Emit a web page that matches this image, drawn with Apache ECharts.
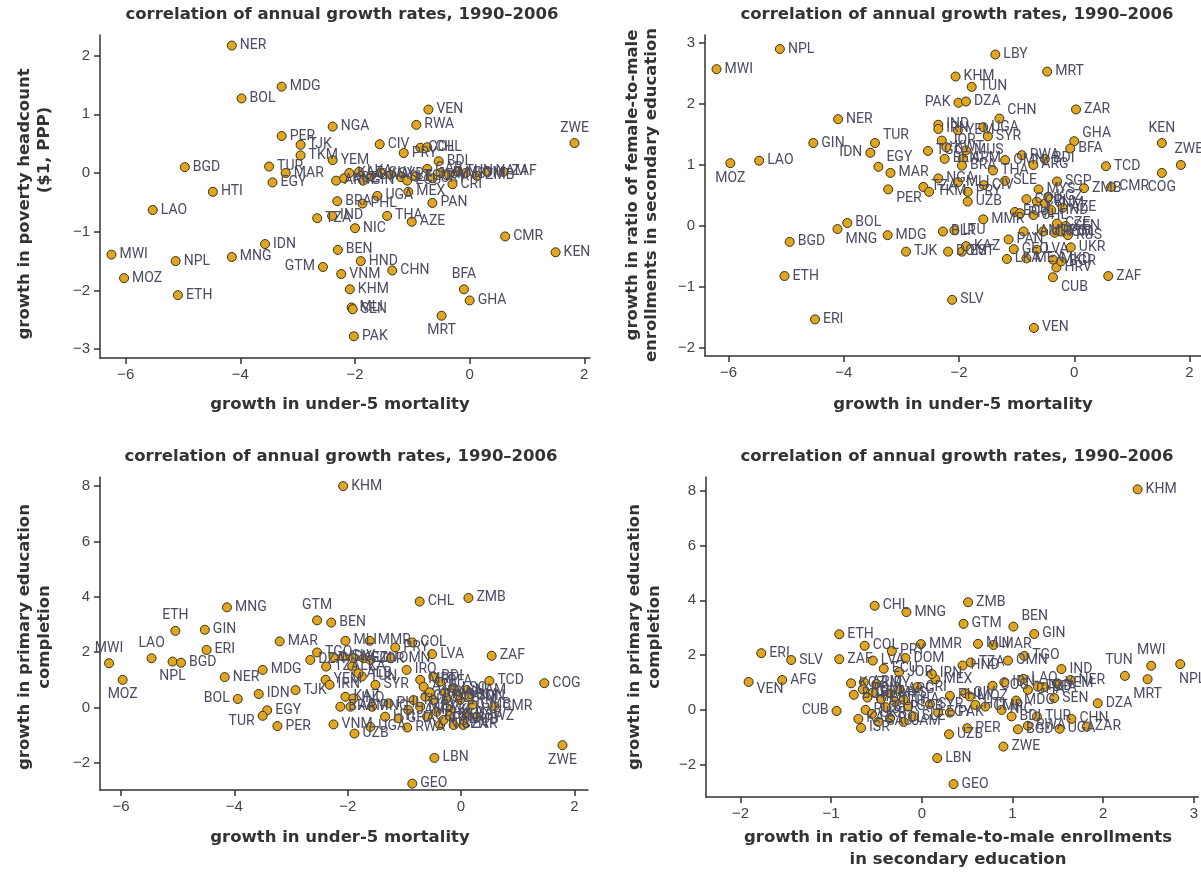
<!DOCTYPE html>
<html><head><meta charset="utf-8">
<script src="https://cdn.jsdelivr.net/npm/echarts@6/dist/echarts.min.js"></script>
<style>html,body{margin:0;padding:0;background:#fff}#c{width:1201px;height:872px}</style>
</head><body><div id="c"></div>
<script>
// ---------- Panel 1: under-5 mortality vs poverty headcount ----------
const codes1 = ['NER','MDG','BOL','NGA','PER','TJK','TKM','YEM','CIV','VEN','RWA','ZWE','PRY','COL','CHL','BDI','ZAF','BGD','TUR','MAR','EGY','HTI','LAO','MWI','MOZ','NPL','ETH','MNG','IDN','GTM','BEN','HND','VNM','KHM','MLI','SEN','PAK','BRA','PHL','TZA','IND','NIC','UGA','MEX','CRI','PAN','THA','AZE','CMR','KEN','CHN','BFA','GHA','MRT',
  'ARM','KGZ','KAZ','LKA','GIN','SLV','SYR','SLE','ECU','TGO','GAB','URY','JAM','MYS','TUN','DOM','ZMB','NAM','BWA'];
const x1 = [-4.15,-3.28,-3.98,-2.39,-3.28,-2.95,-2.95,-2.39,-1.57,-0.72,-0.93,1.83,-1.15,-0.86,-0.74,-0.54,0.59,-4.97,-3.50,-3.21,-3.44,-4.48,-5.53,-6.25,-6.03,-5.13,-5.09,-4.15,-3.57,-2.56,-2.30,-1.90,-2.24,-2.09,-2.06,-2.04,-2.02,-2.31,-1.87,-2.66,-2.40,-2.00,-1.61,-1.07,-0.30,-0.65,-1.44,-1.01,0.62,1.50,-1.35,-0.10,0.00,-0.49,
  -2.33,-2.19,-2.10,-1.93,-1.86,-1.55,-1.38,-1.20,-1.09,-0.94,-0.74,-0.65,-0.51,-0.36,-0.21,-0.07,0.13,0.31,-1.72];
const y1 = [2.17,1.47,1.27,0.79,0.63,0.48,0.30,0.22,0.49,1.08,0.82,0.51,0.34,0.43,0.44,0.20,0.02,0.10,0.11,0.00,-0.16,-0.32,-0.63,-1.39,-1.79,-1.50,-2.08,-1.43,-1.21,-1.60,-1.31,-1.50,-1.72,-1.98,-2.29,-2.32,-2.78,-0.48,-0.52,-0.77,-0.73,-0.94,-0.39,-0.32,-0.19,-0.51,-0.73,-0.83,-1.08,-1.35,-1.66,-1.98,-2.17,-2.43,
  -0.13,-0.09,0.00,0.02,-0.13,0.00,-0.03,-0.07,-0.13,-0.06,0.07,-0.09,0.00,-0.03,0.02,0.00,-0.05,0.02,-0.05];
const xTicks1 = [-6,-4,-2,0,2];
const yTicks1 = [-3,-2,-1,0,1,2];

// ---------- Panel 2: under-5 mortality vs female-to-male secondary ratio ----------
const codes2 = ['NPL','MWI','NER','GIN','TUR','IDN','EGY','MAR','MOZ','LAO','PER','LBY','KHM','MRT','TUN','PAK','DZA','CHN','ZAR','UGA','SYR','GHA','BFA','KEN','ZWE','TCD','COG','CMR','ZMB','SGP','RWA','BDI','ARG','THA','SLE','OMN',
  'IND','IRN','YEM','JOR','KWT','TGO','BEN','ARM','MUS','BRA','NGA','TZA','TKM','MLI','UZB','PRY','CIV','MYS','MMR','MDG','TJK','BGD','MNG','BOL','ETH','ERI',
  'BLR','LTU','DOM','EST','KAZ','SLV','VEN','CUB','ZAF','UKR','HRV','BGR','LKA','PAN','GEO','JAM','MEX','LVA','URY','ROM','POL','CZE','RUS','MKD','ECU','PHL','CHL','COL','CRI','VNM','HND','KGZ','AZE','SEN'];
const x2 = [-5.11,-6.21,-4.10,-4.53,-3.46,-3.54,-3.40,-3.19,-5.97,-5.47,-3.23,-1.37,-2.06,-0.47,-1.78,-2.01,-1.88,-1.30,0.03,-1.58,-1.50,0.00,-0.07,1.52,1.85,0.55,1.52,0.64,0.17,-0.30,-0.91,-0.51,-0.71,-1.41,-1.20,-1.20,
  -2.36,-2.36,-2.02,-2.30,-2.22,-2.54,-2.25,-1.93,-1.88,-1.95,-2.36,-2.62,-2.52,-2.02,-1.85,-1.85,-1.57,-0.62,-1.58,-3.24,-2.92,-4.94,-4.11,-3.94,-5.03,-4.50,
  -2.28,-2.08,-2.19,-1.95,-1.88,-2.12,-0.70,-0.37,0.59,-0.06,-0.31,-0.23,-1.17,-1.14,-1.05,-0.88,-0.83,-0.65,-0.54,-0.34,-0.23,-0.30,-0.11,-0.37,-1.03,-0.94,-0.71,-0.83,-0.65,-0.51,-0.40,-0.45,-0.20,-0.15];
const y2 = [2.90,2.57,1.75,1.36,1.36,1.20,0.97,0.87,1.03,1.07,0.60,2.81,2.45,2.53,2.28,2.02,2.04,1.76,1.91,1.62,1.47,1.39,1.27,1.36,1.00,0.98,0.87,0.64,0.62,0.73,1.16,1.10,1.00,0.91,0.74,1.08,
  1.66,1.59,1.57,1.40,1.29,1.23,1.10,1.10,1.24,0.99,0.78,0.64,0.56,0.72,0.40,0.56,0.67,0.60,0.11,-0.15,-0.42,-0.26,-0.05,0.05,-0.82,-1.53,
  -0.09,-0.07,-0.42,-0.42,-0.33,-1.21,-1.67,-0.84,-0.82,-0.35,-0.68,-0.58,-0.54,-0.22,-0.38,-0.09,-0.53,-0.39,-0.09,-0.11,-0.09,0.04,-0.15,-0.55,0.23,0.21,0.18,0.44,0.40,0.37,0.26,0.48,0.30,0.00];
const xTicks2 = [-6,-4,-2,0,2];
const yTicks2 = [-2,-1,0,1,2,3];

// ---------- Panel 3: under-5 mortality vs primary completion ----------
const codes3 = ['KHM','MNG','GTM','BEN','ETH','GIN','ERI','MAR','MWI','LAO','NPL','BGD','NER','MOZ','MDG','BOL','IDN','TJK','EGY','TUR','PER','MLI','MMR','COL','PRY','OMN','LVA','ZAF','TCD','COG','CMR','ZWE','LBN','GEO','VNM','UZB','CHL','ZMB','TGO',
  'UGA','RWA','NIC','SEN','ZAR','HTI','GHA','BRA','ARM','PNG','PHL','KAZ','IND','SYR','TUN','YEM','IRN','DZA','TZA','MDV','SLV','KGZ','ECU','JOR','LKA','ALB','IRQ','MRT','AZE','BDI','BFA','LSO','NAM','CIV','CAF','SLE','TKM','MEX','PAK','KEN','GAB','CRI','PAN','SWZ','THA','JAM','URY','BWA','DOM','GMB','SDN','MUS','CUB'];
const x3 = [-2.08,-4.13,-2.54,-2.29,-5.04,-4.52,-4.49,-3.20,-6.21,-5.46,-5.09,-4.94,-4.17,-5.97,-3.50,-3.94,-3.57,-2.92,-3.42,-3.50,-3.24,-2.04,-1.61,-0.86,-1.16,-1.24,-0.51,0.54,0.50,1.47,0.59,1.79,-0.47,-0.86,-2.25,-1.88,-0.73,0.13,-2.54,
  -1.60,-0.95,-0.37,-0.13,0.04,-1.34,-1.10,-2.13,-1.95,-1.57,-1.28,-2.04,-1.90,-1.51,-1.75,-2.39,-2.32,-2.66,-2.38,-2.25,-2.07,-1.90,-1.72,-1.60,-1.92,-1.81,-0.96,-0.72,-0.66,-0.49,-0.37,-0.13,0.10,-0.63,-0.49,-0.25,-0.02,-0.72,-0.43,-0.19,0.10,-0.60,-0.31,0.28,-0.84,-0.93,-0.55,-0.28,-0.05,0.20,0.15,-0.20,0.05];
const y3 = [8.00,3.62,3.15,3.07,2.77,2.81,2.08,2.39,1.60,1.78,1.66,1.62,1.10,1.00,1.36,0.31,0.49,0.63,-0.10,-0.30,-0.67,2.41,2.41,2.35,2.17,1.78,1.93,1.87,0.96,0.88,0.05,-1.36,-1.82,-2.75,-0.61,-0.94,3.83,3.96,1.99,
  -0.70,-0.72,-0.63,-0.63,-0.63,-0.33,-0.39,0.03,0.03,0.03,0.15,0.39,0.33,0.82,1.12,1.00,0.82,1.72,1.48,1.82,1.84,1.78,1.78,1.72,1.48,1.24,1.36,1.00,0.75,1.12,0.93,0.70,0.63,0.39,0.27,0.33,0.27,0.03,-0.15,-0.09,-0.21,-0.33,-0.45,-0.33,0.27,-0.09,0.55,0.55,0.45,0.10,0.40,-0.30,-0.45];
const xTicks3 = [-6,-4,-2,0,2];
const yTicks3 = [-2,0,2,4,6,8];

// ---------- Panel 4: female-to-male secondary ratio vs primary completion ----------
const codes4 = ['KHM','CHL','MNG','ETH','COL','MMR','PRY','ERI','SLV','ZAF','LVA','ECU','AFG','VEN','KGZ','ARM','BRA','JOR','DOM','MEX','CRI','IRN','ZMB','GTM','BEN','GIN','MLI','MAR','TGO','OMN','TZA','HND','IND','TUN','MWI','NPL','MRT','NER','YEM','BFA','TCD','LAO','IDN','COG','GHA','SEN','DZA','CHN','ZAR','UGA','RWA','BGD','TUR','BDI','PER','UZB','ZWE','LBN','GEO',
  'PHL','CIV','MDG','NIC','PAK','EGY','SYR','THA','GAB','JAM','SLE','HTI','CMR','MOZ','CUB','ISR','RUS','SAU','KAZ','UKR','BLR','POL','LTU','EST','HRV','BGR','ROM','URY','MYS','ARG'];
const x4 = [2.38,-0.52,-0.17,-0.91,-0.63,-0.01,-0.33,-1.77,-1.44,-0.91,-0.54,-0.42,-1.54,-1.91,-0.78,-0.64,-0.54,-0.25,-0.18,0.15,-0.05,0.11,0.51,0.46,1.01,1.24,0.62,0.79,1.13,0.95,0.54,0.45,1.54,2.24,2.53,2.85,2.49,1.64,1.49,1.35,1.28,1.12,0.91,0.78,1.17,1.46,1.94,1.65,1.82,1.52,1.17,1.06,1.27,0.99,0.50,0.30,0.90,0.17,0.35,
  0.31,0.48,1.04,0.88,0.31,0.18,0.09,-0.20,-0.15,-0.20,-0.09,0.59,0.70,0.53,-0.94,-0.67,-0.62,-0.48,-0.70,-0.55,-0.40,-0.35,-0.30,-0.45,-0.60,-0.75,-0.65,-0.50,-0.35,-0.25];
const y4 = [8.05,3.80,3.57,2.76,2.34,2.40,2.15,2.07,1.82,1.85,1.80,1.50,1.09,1.02,0.97,1.01,0.63,1.38,1.89,1.12,0.83,1.31,3.93,3.14,3.04,2.77,2.41,2.37,1.97,1.80,1.73,1.62,1.49,1.24,1.61,1.67,1.12,1.09,0.97,0.83,0.85,1.13,1.01,0.88,0.73,0.43,0.24,-0.33,-0.61,-0.69,-0.58,-0.71,-0.24,-0.24,-0.67,-0.89,-1.34,-1.76,-2.71,
  0.51,0.61,0.34,0.00,-0.10,-0.10,0.21,0.37,0.12,-0.44,-0.24,0.18,0.12,0.49,-0.04,-0.66,0.00,-0.44,-0.33,-0.15,0.10,-0.30,0.30,0.40,0.45,0.55,0.75,0.95,0.60,0.75];
const xTicks4 = [-2,-1,0,1,2,3];
const yTicks4 = [-2,0,2,4,6,8];

// ---------- label placement (style only) ----------
const place1 = {GTM:{position:'left'}, ZWE:{position:'top'}, BFA:{position:'top'}, MRT:{position:'bottom'}};
const place2 = {IDN:{position:'left'}, PAK:{position:'left'}, MOZ:{position:'bottom'}, KEN:{position:'top'}, ZWE:{position:'top', offset:[8,0]}, COG:{position:'bottom'},
  TUR:{offset:[0,-8]}, EGY:{offset:[0,-9]}, PER:{offset:[0,9]}, CHN:{offset:[0,-8]}, GHA:{offset:[0,-8]}, MNG:{offset:[0,10]}, CUB:{offset:[0,10]}};
const place3 = {GTM:{position:'top'}, ETH:{position:'top'}, MWI:{position:'top'}, LAO:{position:'top'}, NPL:{position:'bottom'}, MOZ:{position:'bottom'}, BOL:{position:'left'}, TUR:{position:'left', offset:[0,6]}, ZWE:{position:'bottom'}};
const place4 = {CUB:{position:'left'}, VEN:{offset:[0,8]}, TUN:{position:'top', offset:[-6,0]}, MWI:{position:'top'}, NPL:{position:'bottom', offset:[12,0]}, MRT:{position:'bottom'}, BEN:{offset:[0,-10]}};

const TXT = '#333';
const BOLD = '"DejaVu Sans", "Liberation Sans", sans-serif';
const minus = v => String(v).replace('-', '\u2212');

function xAxis(idx, min, max, ticks) {
  return {type:'value', gridIndex:idx, min, max, splitLine:{show:false},
    axisLine:{show:true, onZero:false, lineStyle:{color:'#333', width:1.5}},
    axisTick:{show:true, length:6, customValues:ticks, lineStyle:{color:'#333', width:1.5}},
    axisLabel:{customValues:ticks, color:'#444', fontSize:15, fontFamily:'Liberation Sans', margin:9, formatter:minus}};
}
function yAxis(idx, min, max, ticks) {
  const a = xAxis(idx, min, max, ticks); a.axisLabel.margin = 10; return a;
}
function series(idx, codes, xs, ys, place) {
  return {type:'scatter', xAxisIndex:idx, yAxisIndex:idx, symbolSize:9, animation:false,
    itemStyle:{color:'#DFA623', borderColor:'#3a300e', borderWidth:1, opacity:1},
    emphasis:{disabled:true},
    label:{show:true, position:'right', distance:3, formatter:p => p.value[2], color:'#4b4b63', fontSize:14, fontFamily:'Roboto'},
    data: codes.map((c,i) => { const d = {value:[xs[i], ys[i], c]}; if (place[c]) d.label = place[c]; return d; })};
}
function txt(x, y, text, rot, size) {
  return {type:'text', x, y, rotation: rot ? Math.PI/2 : 0, silent:true,
    style:{text, fill:TXT, font:'bold ' + size + 'px ' + BOLD,
      align:'center', verticalAlign:'middle', textAlign:'center', textVerticalAlign:'middle'}};
}
const TITLE = 'correlation of annual growth rates, 1990\u20132006';
const S = 16.5;

const chart = echarts.init(document.getElementById('c'), null, {renderer:'canvas'});
chart.setOption({
  animation:false,
  backgroundColor:'#fff',
  grid:[
    {left:100, top:35, width:490, height:323},
    {left:705, top:35, width:504, height:321},
    {left:100, top:477, width:488, height:313},
    {left:706, top:477, width:495, height:320}
  ],
  xAxis:[xAxis(0,-6.45,2.1,xTicks1), xAxis(1,-6.41,2.2,xTicks2), xAxis(2,-6.37,2.24,xTicks3), xAxis(3,-2.38,3.05,xTicks4)],
  yAxis:[yAxis(0,-3.15,2.35,yTicks1), yAxis(1,-2.13,3.13,yTicks2), yAxis(2,-2.98,8.33,yTicks3), yAxis(3,-3.18,8.5,yTicks4)],
  series:[series(0,codes1,x1,y1,place1), series(1,codes2,x2,y2,place2), series(2,codes3,x3,y3,place3), series(3,codes4,x4,y4,place4)],
  graphic:[
    txt(342,15,TITLE,false,S), txt(957,15,TITLE,false,S),
    txt(341,457,TITLE,false,S), txt(957,457,TITLE,false,S),
    txt(25,204,'growth in poverty headcount',true,S), txt(45,150,'($1, PPP)',true,S),
    txt(633,185,'growth in ratio of female-to-male',true,S), txt(652,195,'enrollments in secondary education',true,S),
    txt(25,637,'growth in primary education',true,S), txt(45,637,'completion',true,S),
    txt(635,637,'growth in primary education',true,S), txt(655,637,'completion',true,S),
    txt(340,405,'growth in under-5 mortality',false,S), txt(963,405,'growth in under-5 mortality',false,S),
    txt(340,838,'growth in under-5 mortality',false,S),
    txt(958,838,'growth in ratio of female-to-male enrollments',false,S), txt(958,860,'in secondary education',false,S)
  ]
});
</script></body></html>
